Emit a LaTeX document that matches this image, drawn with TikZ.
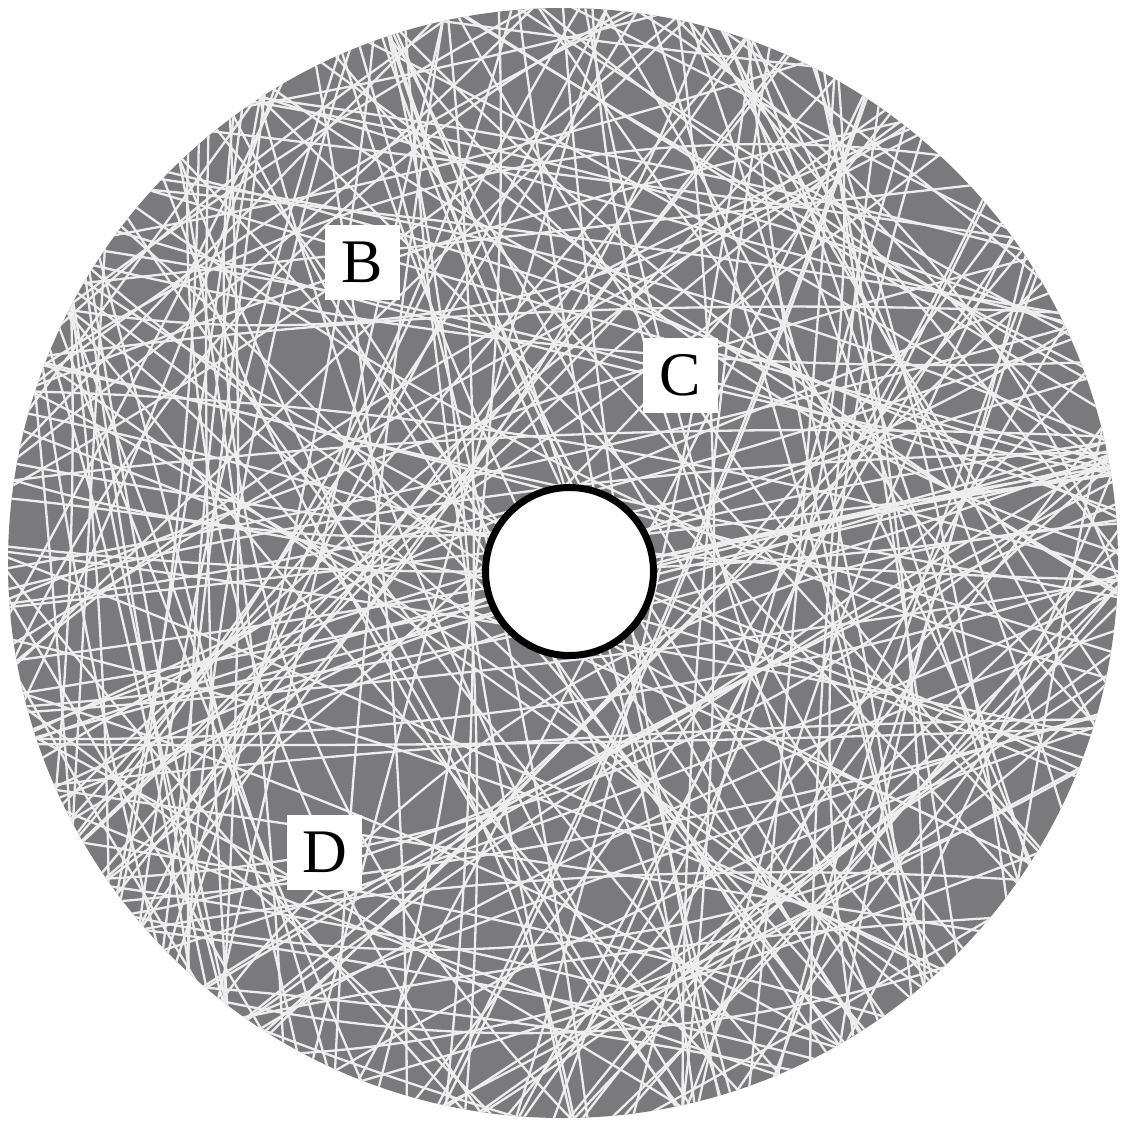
\documentclass[tikz,border=0pt]{standalone}
\usepackage{fontspec}
\setmainfont{Liberation Serif}
\definecolor{diskgray}{RGB}{122,122,124}
\definecolor{fibercol}{RGB}{238,238,238}
\tikzset{
  labelbox/.style={fill=white, minimum size=75pt, inner sep=0pt, font=\fontsize{62}{62}\selectfont},
  fiberline/.style={draw=fibercol, line width=2.3pt},
  holestyle/.style={circle, draw=black, line width=7pt, fill=white, minimum size=168pt, inner sep=0pt}
}
\newcommand{\fibrechord}[3]{%
  % #1 angle, #2 offset, #3 bulge
  \pgfmathsetmacro{\cth}{cos(#1)}%
  \pgfmathsetmacro{\sth}{sin(#1)}%
  \pgfmathsetmacro{\mx}{563 - (#2)*\sth}%
  \pgfmathsetmacro{\my}{563 + (#2)*\cth}%
  \pgfmathsetmacro{\ax}{\mx + 600*\cth}%
  \pgfmathsetmacro{\ay}{\my + 600*\sth}%
  \pgfmathsetmacro{\bx}{\mx - 600*\cth}%
  \pgfmathsetmacro{\by}{\my - 600*\sth}%
  \pgfmathsetmacro{\pax}{\mx + 200*\cth - (#3)*\sth}%
  \pgfmathsetmacro{\pay}{\my + 200*\sth + (#3)*\cth}%
  \pgfmathsetmacro{\pbx}{\mx - 200*\cth - (#3)*\sth}%
  \pgfmathsetmacro{\pby}{\my - 200*\sth + (#3)*\cth}%
  \draw[fiberline] (\ax,\ay) .. controls (\pax,\pay) and (\pbx,\pby) .. (\bx,\by);%
}
\begin{document}
\begin{tikzpicture}[x=1pt,y=-1pt]
\useasboundingbox (0,0) rectangle (1123,1127);
\fill[white] (0,0) rectangle (1123,1127);
\coordinate (O) at (563,563);
\fill[diskgray] (O) circle[radius=555pt];
\begin{scope}
\clip (O) circle[radius=555pt];
\pgfmathsetseed{12345}
\foreach \i in {1,...,205}{
  \pgfmathsetmacro{\th}{180*rnd}
  \pgfmathsetmacro{\d}{545*rand}
  \pgfmathsetmacro{\b}{70*rand}
  \fibrechord{\th}{\d}{\b}
}
\foreach \i in {1,...,35}{
  \pgfmathsetmacro{\th}{180*rnd}
  \pgfmathsetmacro{\d}{450*rand}
  \pgfmathsetmacro{\b}{220*rand}
  \fibrechord{\th}{\d}{\b}
}
\end{scope}
\node[holestyle] (hole) at (569.5,571.5) {};
\node[labelbox] (B) at (362.5,262.5) {B};
\node[labelbox] (C) at (680.5,375) {C};
\node[labelbox] (D) at (324.5,852.5) {D};
\end{tikzpicture}
\end{document}
